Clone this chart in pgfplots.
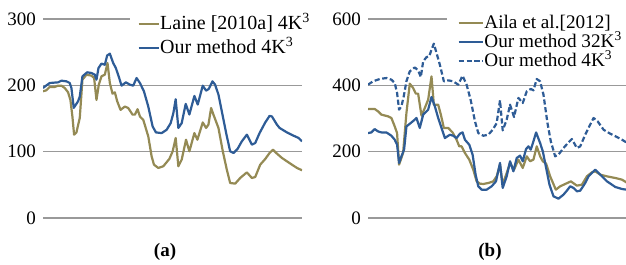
\documentclass[border=0pt]{standalone}
\usepackage{pgfplots}
\pgfplotsset{compat=1.18}
\usepackage{fontspec}
\setmainfont{Liberation Serif}
\definecolor{olv}{HTML}{948A54}
\definecolor{blu}{HTML}{2E5C96}
\pgfplotsset{panel/.style={
  scale only axis, width=129.5pt, height=99.5pt, ymin=0,
  xtick=\empty, ymajorgrids,
  grid style={color=black!40, line width=0.6pt},
  axis line style={draw=none}, major tick length=0pt,
  tick label style={font=\fontsize{9.5}{11}\selectfont},
  /pgf/number format/assume math mode=true,
  legend cell align=left,
  every axis plot/.append style={line width=1.1pt, line join=round},
}}
\begin{document}
\begin{tikzpicture}
\useasboundingbox (0,0) rectangle (313pt,132.5pt);
\begin{axis}[panel, at={(21.5pt,23.5pt)}, anchor=south west,
  xmin=130, xmax=905, ymax=300, ytick={0,100,200,300},
  legend image code/.code={\draw[#1] (0pt,0pt) -- (10pt,0pt);},
  legend style={at={(0.336,1.04)}, anchor=north west, draw=none, fill=white,
    inner xsep=3.5pt, inner ysep=1pt, font=\fontsize{10}{12}\selectfont,
    nodes={fill=none, inner xsep=0.3pt, inner ysep=0pt, text height=8pt, text depth=2.5pt}, row sep=1.5pt}]
\addplot[olv] coordinates {(130,191)(140,192.5)(150,197.5)(165,197.5)(175,199.5)(185,199.5)(195,196)(205,189.5)(212,178)(218,153)(223,125.6)(230,129)(240,150.8)(248,208.5)(260,216)(275,214.6)(283,211)(290,178)(297,201)(305,213.6)(315,216)(323,233.7)(330,203.5)(338,187.4)(345,189.5)(352,176)(362,163)(375,168)(385,165.8)(398,155.8)(405,155.8)(413,164)(420,153)(430,148)(445,123)(455,93)(462,80.4)(475,75.4)(490,78)(508,89)(518,100.5)(527,120.6)(535,78)(545,88)(558,118)(568,100.5)(583,128)(592,118)(608,144)(618,135.7)(625,140.7)(633,165.8)(640,155.8)(655,135.7)(668,100.5)(680,72.9)(690,52.8)(705,51.8)(720,60.3)(740,68.8)(755,60.3)(765,61.8)(780,80.4)(795,89)(808,98)(818,103)(830,97)(845,90.5)(870,82)(890,75.4)(905,71.9)};
\addlegendentry{Laine [2010a] 4K\textsuperscript{3}}
\addplot[blu] coordinates {(130,196)(150,203.5)(175,204.5)(185,207)(200,206)(210,203.5)(215,196)(222,166)(235,176)(240,183)(248,213.5)(262,219.6)(275,218.6)(285,216)(290,208.5)(296,226)(305,232.7)(315,231)(322,245)(330,247.7)(340,233.7)(348,226)(358,211)(365,199.5)(378,204.5)(390,201)(400,199.5)(410,211)(420,203.5)(432,191)(445,168)(458,138)(468,129)(485,128)(500,133)(512,143)(520,158)(527,179)(535,135.7)(545,143)(557,172)(568,156)(583,184)(593,171)(608,199.5)(618,192)(626,194.5)(637,206)(645,201)(655,186)(665,161)(678,128)(690,100.5)(700,98)(712,104)(725,115.6)(740,125.6)(755,110.5)(765,113)(778,128)(795,144)(808,154)(815,153)(830,140.7)(838,135.7)(860,129)(880,124)(895,120.6)(905,115.6)};
\addlegendentry{Our method 4K\textsuperscript{3}}
\end{axis}
\begin{axis}[panel, at={(184pt,23.5pt)}, anchor=south west,
  xmin=175, xmax=950, ymax=600, ytick={0,200,400,600},
  legend image code/.code={\draw[#1] (0pt,0pt) -- (12pt,0pt);},
  legend style={at={(0.302,1.04)}, anchor=north west, draw=none, fill=white,
    inner xsep=5.5pt, inner ysep=1pt, font=\fontsize{9.6}{11}\selectfont,
    nodes={fill=none, inner xsep=0.3pt, inner ysep=0pt, text height=7.5pt, text depth=2pt}, row sep=0pt}]
\addplot[olv] coordinates {(175,328.6)(195,328.6)(205,321.6)(215,311.6)(235,306.5)(245,301.5)(255,276)(262,256)(268,160.8)(280,196)(290,316.6)(300,405)(310,392)(318,375)(325,375)(335,308.5)(345,331.7)(355,356.8)(365,427)(372,341.7)(385,341.7)(393,311.6)(402,271.4)(415,271.4)(428,258)(440,236)(448,216)(455,216)(465,196)(478,176)(490,145.7)(500,110.5)(510,103.5)(520,102.5)(535,105.5)(550,110.5)(560,125.6)(570,160.8)(578,100.5)(590,135.7)(600,165.8)(612,145.7)(625,176)(638,150.8)(650,186)(660,171)(670,176)(680,216)(690,186)(698,171)(708,163.8)(720,125.6)(737,85.4)(750,95.5)(765,102.5)(782,110.5)(800,97.5)(815,100.5)(830,125.6)(845,137.7)(855,140.7)(870,130.6)(890,125.6)(915,120.6)(935,115.6)(948,107.5)};
\addlegendentry{Aila et al.[2012]}
\addplot[blu] coordinates {(175,256)(185,258)(195,268)(205,261)(215,258)(230,258)(245,248)(255,236)(262,221)(268,166)(275,186)(283,206)(290,276)(300,284)(315,296.5)(320,301.5)(330,271.4)(340,311.6)(355,326.6)(365,364.8)(375,336.7)(385,301.5)(395,271.4)(405,241)(420,251)(430,248)(440,241)(450,254)(458,258)(465,236)(478,221)(488,191)(497,130.6)(505,95.5)(515,85.4)(530,85.4)(545,95.5)(558,110.5)(570,166)(578,90.5)(590,125.6)(600,171)(610,140.7)(620,181)(630,188)(638,171)(648,208)(655,216)(662,206)(670,231)(678,258)(690,226)(698,201)(705,166)(718,100.5)(730,65.3)(745,58.3)(760,70.4)(770,82.4)(780,95.5)(790,90.5)(800,80.4)(810,82.4)(825,105.5)(835,125.6)(855,145.7)(870,130.6)(890,110.5)(915,93.5)(935,87.4)(948,85.4)};
\addlegendentry{Our method 32K\textsuperscript{3}}
\addplot[blu, dash pattern=on 2.6pt off 1.3pt] coordinates {(175,402)(190,412)(210,419)(230,422)(245,417)(255,407)(262,377)(268,326.6)(275,336.7)(282,367)(290,412)(300,442)(315,454)(325,445)(333,425)(340,472)(350,485)(358,487)(365,507.5)(372,525.6)(380,497.5)(390,462)(402,412)(415,415)(430,412)(445,402)(458,429)(470,402)(482,356.8)(495,291.5)(505,256)(520,248)(535,251)(548,266)(560,286)(570,355)(578,264)(590,296.5)(600,341.7)(612,304.5)(625,362)(638,346.7)(650,382)(662,389)(670,385)(680,419)(690,412)(700,372)(712,286)(722,231)(735,186)(745,191)(760,211)(775,228)(785,238)(800,211)(810,216)(825,251)(838,278)(850,301.5)(862,291.5)(880,266)(900,254)(920,244)(935,236)(948,228)};
\addlegendentry{Our method 4K\textsuperscript{3}}
\end{axis}
\node[font=\bfseries\fontsize{9.5}{11}\selectfont] at (82.5pt,6.5pt) {(a)};
\node[font=\bfseries\fontsize{9.5}{11}\selectfont] at (245pt,6.5pt) {(b)};
\end{tikzpicture}
\end{document}
